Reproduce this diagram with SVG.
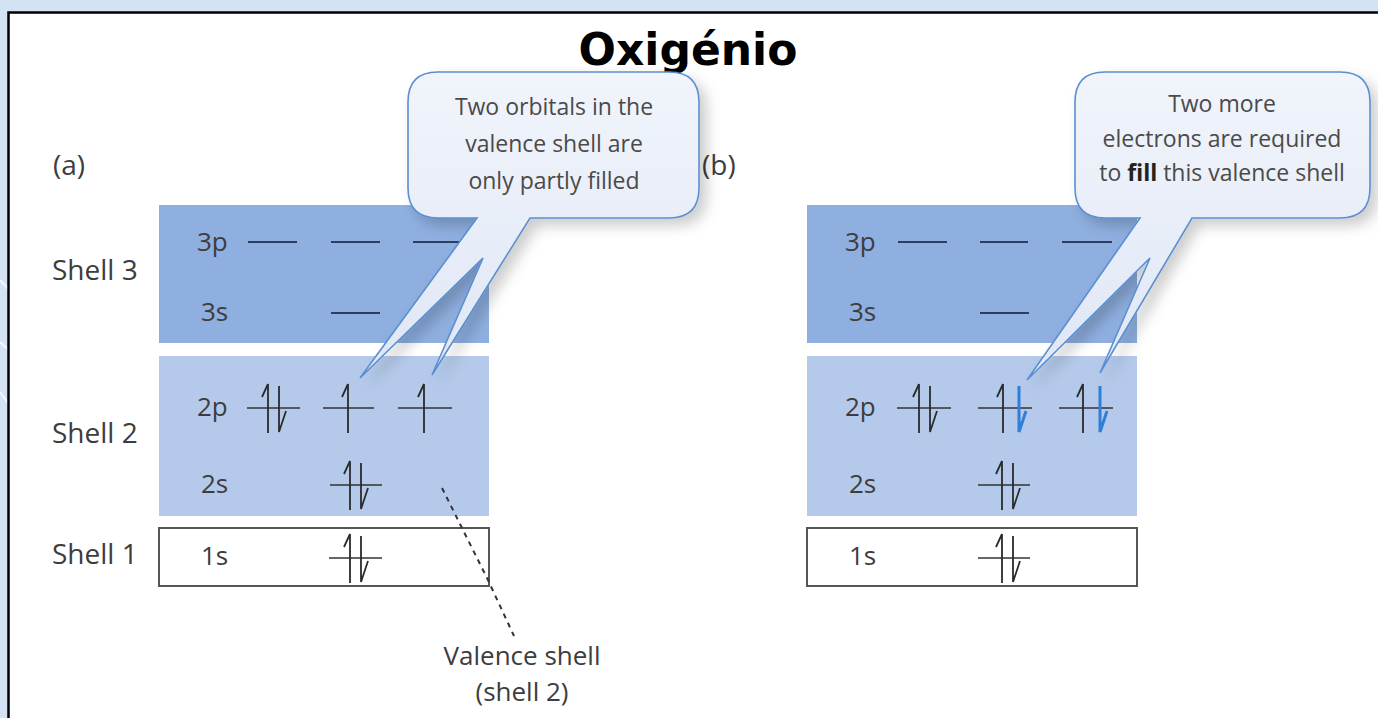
<svg xmlns="http://www.w3.org/2000/svg" width="1378" height="718" viewBox="0 0 1378 718">
<defs>
<style>
.lbl{font-family:"Open Sans","Liberation Sans",sans-serif;fill:#3d3d3d}
.shell{font-size:28px}
.orb{font-size:26px}
.cap{font-size:23px;text-anchor:middle;fill:#4a4a4a}
.dash{stroke:#2e3d5c;stroke-width:1.8;fill:none}
.hl{stroke:#333;stroke-width:1.6;fill:none}
.ar{stroke:#2b2b2b;stroke-width:1.8;fill:none;stroke-linejoin:miter}
.arb{stroke:#2f7fd6;stroke-width:3;fill:none}
.callout{fill:url(#cg);stroke:#5b8fd0;stroke-width:1.6;filter:url(#sh)}
</style>
<linearGradient id="cg" x1="0" y1="0" x2="0" y2="1">
<stop offset="0" stop-color="#f1f4fb"/>
<stop offset="1" stop-color="#dfe7f5"/>
</linearGradient>
<filter id="sh" x="-20%" y="-20%" width="150%" height="150%">
<feDropShadow dx="7" dy="7" stdDeviation="7" flood-color="#000" flood-opacity="0.2"/>
</filter>
<path id="up" d="M0,-24 V25 M0,-24 L-6,-11"/>
<path id="dn" d="M0,-22 V24 L7,3"/>
</defs>

<rect x="0" y="0" width="1378" height="718" fill="#d3e3f3"/>
<g stroke="#ffffff" stroke-opacity="0.75" stroke-width="2" fill="none">
<path d="M0,280 Q4,284 9,290"/>
<path d="M0,342 Q4,346 9,350"/>
<path d="M0,392 Q4,398 9,404"/>
</g>
<rect x="8.5" y="12.5" width="1400" height="720" fill="#ffffff" stroke="#000" stroke-width="2.5"/>

<text x="688" y="65" text-anchor="middle" font-family="'DejaVu Sans',sans-serif" font-weight="bold" font-size="44" fill="#000">Oxigénio</text>

<!-- Panel (a) -->
<g id="panel-a">
<text class="lbl" x="53" y="175" font-size="28">(a)</text>
<g id="a-shell3">
<rect x="159" y="205" width="330" height="138" fill="#8eafe0"/>
<text class="lbl shell" x="52" y="280">Shell 3</text>
<text class="lbl orb" x="197" y="251">3p</text>
<text class="lbl orb" x="201" y="321">3s</text>
<path class="dash" d="M248,242 H297 M331,242 H380 M413,242 H462 M331,313 H380"/>
</g>
<g id="a-shell2">
<rect x="159" y="356" width="330" height="160" fill="#b5caeb"/>
<text class="lbl shell" x="52" y="443">Shell 2</text>
<text class="lbl orb" x="197" y="416">2p</text>
<text class="lbl orb" x="201" y="493">2s</text>
<path class="hl" d="M247,408 H300 M323,408 H374 M398,408 H452 M330,485 H382"/>
<use href="#up" class="ar" x="268" y="408"/>
<use href="#dn" class="ar" x="279" y="408"/>
<use href="#up" class="ar" x="348" y="408"/>
<use href="#up" class="ar" x="424" y="408"/>
<use href="#up" class="ar" x="350" y="485"/>
<use href="#dn" class="ar" x="361" y="485"/>
</g>
<g id="a-shell1">
<rect x="159" y="528" width="330" height="58" fill="#ffffff" stroke="#555" stroke-width="2"/>
<text class="lbl shell" x="52" y="564">Shell 1</text>
<text class="lbl orb" x="201" y="565">1s</text>
<path class="hl" d="M329,558 H382"/>
<use href="#up" class="ar" x="350" y="558"/>
<use href="#dn" class="ar" x="361" y="558"/>
</g>
</g>

<!-- Panel (b) -->
<g id="panel-b">
<text class="lbl" x="702" y="175" font-size="28">(b)</text>
<g id="b-shell3">
<rect x="807" y="205" width="330" height="138" fill="#8eafe0"/>
<text class="lbl orb" x="845" y="251">3p</text>
<text class="lbl orb" x="849" y="321">3s</text>
<path class="dash" d="M898,242 H947 M980,242 H1028 M1062,242 H1112 M980,313 H1029"/>
</g>
<g id="b-shell2">
<rect x="807" y="356" width="330" height="160" fill="#b5caeb"/>
<text class="lbl orb" x="845" y="416">2p</text>
<text class="lbl orb" x="849" y="493">2s</text>
<path class="hl" d="M897,408 H951 M978,408 H1032 M1059,408 H1113 M978,485 H1030"/>
<use href="#up" class="ar" x="919" y="408"/>
<use href="#dn" class="ar" x="930" y="408"/>
<use href="#up" class="ar" x="1003" y="408"/>
<use href="#dn" class="arb" x="1019" y="408"/>
<use href="#up" class="ar" x="1083" y="408"/>
<use href="#dn" class="arb" x="1100" y="408"/>
<use href="#up" class="ar" x="1002" y="485"/>
<use href="#dn" class="ar" x="1013" y="485"/>
</g>
<g id="b-shell1">
<rect x="807" y="528" width="330" height="58" fill="#ffffff" stroke="#555" stroke-width="2"/>
<text class="lbl orb" x="849" y="565">1s</text>
<path class="hl" d="M978,558 H1030"/>
<use href="#up" class="ar" x="1002" y="558"/>
<use href="#dn" class="ar" x="1013" y="558"/>
</g>
</g>

<!-- connectors -->
<g id="connectors">
<path d="M442,488 L488,580 L514,636" stroke="#333" stroke-width="2" stroke-dasharray="5,5" fill="none"/>
</g>

<g id="valence-label">
<text class="lbl" x="522" y="665" font-size="26" text-anchor="middle">Valence shell</text>
<text class="lbl" x="522" y="701" font-size="26" text-anchor="middle">(shell 2)</text>
</g>

<g id="callout-a">
<path class="callout" d="M438,72 H669 Q699,72 699,102 V188 Q699,218 669,218 H530 L432,375 L483,258 L360,378 L477,218 H438 Q408,218 408,188 V102 Q408,72 438,72 Z"/>
<text class="lbl cap" x="554" y="115">Two orbitals in the</text>
<text class="lbl cap" x="554" y="152">valence shell are</text>
<text class="lbl cap" x="554" y="189">only partly filled</text>
</g>

<g id="callout-b">
<path class="callout" d="M1105,72 H1340 Q1370,72 1370,102 V188 Q1370,218 1340,218 H1192 L1100,373 L1150,258 L1027,380 L1140,218 H1105 Q1075,218 1075,188 V102 Q1075,72 1105,72 Z"/>
<text class="lbl cap" x="1222" y="112">Two more</text>
<text class="lbl cap" x="1222" y="147">electrons are required</text>
<text class="lbl cap" x="1222" y="181">to <tspan font-weight="bold" fill="#222">fill</tspan> this valence shell</text>
</g>
</svg>
